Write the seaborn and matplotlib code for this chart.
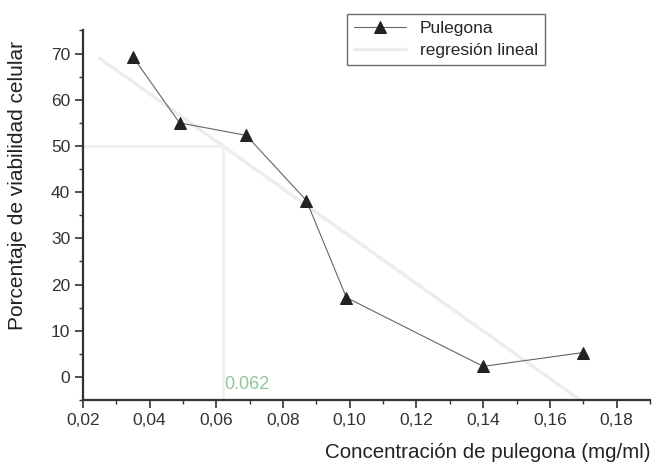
import numpy as np
import pandas as pd
import matplotlib
matplotlib.use("Agg")
import matplotlib.pyplot as plt
import seaborn as sns
from matplotlib.ticker import MultipleLocator, FuncFormatter

# Cell viability vs pulegone concentration
concentracion = [0.035, 0.049, 0.069, 0.087, 0.099, 0.140, 0.170]
viabilidad = [69.3, 55.0, 52.3, 38.2, 17.2, 2.3, 5.3]
ic50_x = 0.062
ic50_y = 50

sns.set_theme(style="white")
plt.rcParams["font.family"] = ["Liberation Sans", "DejaVu Sans"]

fig = plt.figure(figsize=(6.52, 4.62), dpi=100)
ax = fig.add_axes([0.127, 0.134, 0.870, 0.80])

df = pd.DataFrame({"x": concentracion, "y": viabilidad})

# Linear regression over the measured points
slope, intercept = np.polyfit(df["x"], df["y"], 1)
xr = np.array([0.025, 0.19])
ax.plot(xr, slope * xr + intercept, color="#ededed", lw=2.5, zorder=1,
        label="regresión lineal")

# IC50 guide lines
ax.plot([0.02, ic50_x], [ic50_y, ic50_y], color="#f0f0f0", lw=2, zorder=1)
ax.plot([ic50_x, ic50_x], [-5, ic50_y], color="#f0f0f0", lw=2, zorder=1)
ax.text(ic50_x + 0.0005, -1.6, f"{ic50_x:.3f}", color="#93c49d", fontsize=13,
        ha="left", va="center")

sns.lineplot(data=df, x="x", y="y", ax=ax, color="#666666", lw=0.8,
             marker="^", markersize=8, markerfacecolor="#222222",
             markeredgecolor="#222222", label="Pulegona", zorder=3)

ax.set_xlim(0.02, 0.19)
ax.set_ylim(-5, 75)
ax.xaxis.set_major_locator(MultipleLocator(0.02))
ax.xaxis.set_minor_locator(MultipleLocator(0.01))
ax.yaxis.set_major_locator(MultipleLocator(10))
ax.yaxis.set_minor_locator(MultipleLocator(5))
ax.xaxis.set_major_formatter(FuncFormatter(lambda v, p: f"{v:.2f}".replace(".", ",")))
ax.yaxis.set_major_formatter(FuncFormatter(lambda v, p: f"{v:.0f}"))
ax.set_yticks([0, 10, 20, 30, 40, 50, 60, 70])

for s in ["top", "right"]:
    ax.spines[s].set_visible(False)
for s in ["left", "bottom"]:
    ax.spines[s].set_color("#333333")
    ax.spines[s].set_linewidth(1.6)

ax.tick_params(axis="both", which="major", direction="out", length=6, width=1.2,
               color="#333333", labelsize=12.5, labelcolor="#333333",
               left=True, bottom=True, pad=3)
ax.tick_params(axis="both", which="minor", direction="out", length=3, width=1.0,
               color="#333333", left=True, bottom=True)

ax.set_xlabel("Concentración de pulegona (mg/ml)", fontsize=14.8, color="#222222")
ax.xaxis.set_label_coords(1.0, -0.115)
ax.xaxis.label.set_ha("right")
ax.set_ylabel("Porcentaje de viabilidad celular", fontsize=15, color="#222222")
ax.yaxis.set_label_coords(-0.098, 0.58)

handles, labels = ax.get_legend_handles_labels()
order = [labels.index("Pulegona"), labels.index("regresión lineal")]
leg = ax.legend([handles[i] for i in order], [labels[i] for i in order],
                loc="upper left", bbox_to_anchor=(0.45, 1.068), frameon=True,
                fancybox=False, edgecolor="#444444", fontsize=12.5,
                handlelength=3.0, borderpad=0.4, labelspacing=0.4)
leg.get_frame().set_linewidth(1.0)

fig.savefig("out.png", dpi=100)
